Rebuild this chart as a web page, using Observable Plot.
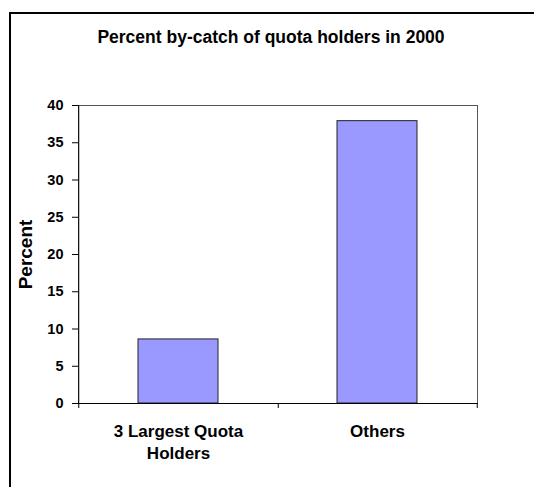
<!DOCTYPE html>
<html>
<head>
<meta charset="utf-8">
<script src="https://cdn.jsdelivr.net/npm/d3@7"></script>
<script src="https://cdn.jsdelivr.net/npm/@observablehq/plot@0.6"></script>
<style>
  html, body { margin: 0; padding: 0; background: #fff; }
  #wrap { position: relative; width: 534px; height: 487px; overflow: hidden; font-family: "Liberation Sans", Arial, sans-serif; }
  #border { position: absolute; left: 9px; top: 12px; right: -10px; bottom: -10px; border-left: 2px solid #000; border-top: 2px solid #000; pointer-events: none; }
  #title { box-sizing: border-box; height: 60px; padding-top: 27px; padding-left: 8px; line-height: 20px; font-size: 17.5px; font-weight: bold; text-align: center; color: #000; }
  #chart svg { display: block; background: transparent; }
</style>
</head>
<body>
<div id="wrap">
  <div id="border"></div>
  <div id="title"></div>
  <div id="chart"></div>
</div>
<script>
const titleText = "Percent by-catch of quota holders in 2000";
const yLabel = "Percent";
const categories = ["3 Largest Quota Holders", "Others"];
const categoryLabels = ["3 Largest Quota\nHolders", "Others"];
const percents = [8.6, 37.9];
const yTicks = [0, 5, 10, 15, 20, 25, 30, 35, 40];

const data = categories.map((c, i) => ({category: c, percent: percents[i]}));
const labelOf = new Map(categories.map((c, i) => [c, categoryLabels[i]]));

document.getElementById("title").textContent = titleText;

const W = 534, H = 427;
const mL = 78, mR = 57, mT = 45, mB = 84;
const padIn = 0.6, padOut = 0.3;
const step = (W - mL - mR) / (categories.length - padIn + 2 * padOut);

const chart = Plot.plot({
  width: W,
  height: H,
  marginLeft: mL,
  marginRight: mR,
  marginTop: mT,
  marginBottom: mB,
  style: {fontFamily: "'Liberation Sans', Arial, sans-serif", color: "#000", background: "transparent"},
  x: {domain: categories, paddingInner: padIn, paddingOuter: padOut, axis: null},
  y: {domain: [0, 40], axis: null},
  marks: [
    Plot.frame({stroke: "#555"}),
    Plot.barY(data, {x: "category", y: "percent", fill: "#9999ff", stroke: "#222", strokeWidth: 1}),
    Plot.ruleY([0], {stroke: "#000"}),
    Plot.ruleX([categories[0]], {x: d => d, y1: 40, y2: 0, insetBottom: -5, dx: -step / 2, stroke: "#000"}),
    Plot.ruleX(categories, {x: d => d, y1: 0, y2: 0, insetBottom: -5, dx: step / 2, stroke: "#000"}),
    Plot.axisY({ticks: yTicks, tickSize: 6, tickPadding: 9, fontSize: 14.5, fontWeight: "bold", label: null, stroke: "#000"}),
    Plot.axisX({tickSize: 0, tickPadding: 18, fontSize: 17, fontWeight: "bold", lineHeight: 1.3, label: null, tickFormat: d => labelOf.get(d)}),
    Plot.text([yLabel], {text: d => d, frameAnchor: "left", textAnchor: "middle", rotate: -90, dx: -53, fontSize: 19, fontWeight: "bold", fill: "#000"})
  ]
});
document.getElementById("chart").appendChild(chart);
</script>
</body>
</html>
